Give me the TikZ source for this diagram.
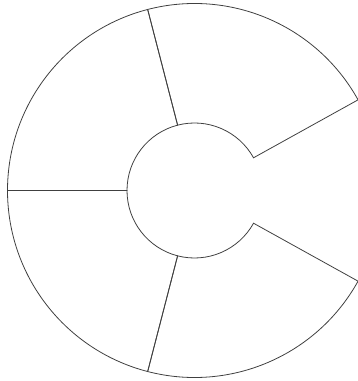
\documentclass[tikz,border=0pt]{standalone}
\usetikzlibrary{calc}
\begin{document}
\begin{tikzpicture}[x=1pt, y=1pt,
  rim/.style={draw=black!75, line width=0.8pt, line join=miter}]
  \useasboundingbox (0,0) rectangle (358,381);
  \coordinate (c) at (194.5,190.5);
  % four equal sectors of the ring, open on the right
  \foreach \a in {29, 104.5, 180, 255.5} {
    \draw[rim] ($(c)+(\a:67.5)$) -- ($(c)+(\a:187)$)
      arc[start angle=\a, delta angle=75.5, radius=187]
      -- ($(c)+(\a+75.5:67.5)$)
      arc[start angle=\a+75.5, delta angle=-75.5, radius=67.5] -- cycle;
  }
\end{tikzpicture}
\end{document}
